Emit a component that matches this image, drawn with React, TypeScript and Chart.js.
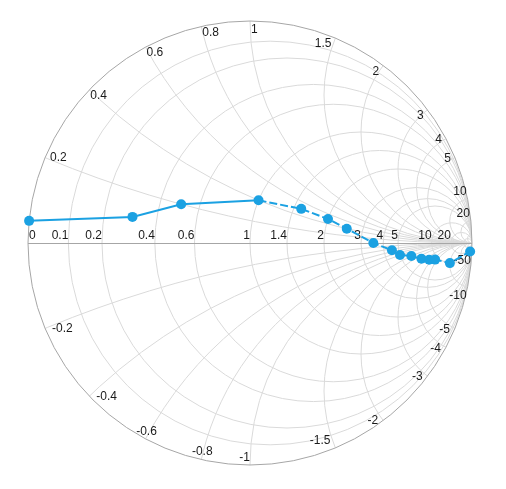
import React, { useEffect, useRef } from "react";
import { Chart, registerables } from "chart.js";

Chart.register(...registerables);

// Data series: impedance points (resistance, reactance)
const resistance = [0, 0.3, 0.5, 1.0, 1.5, 2.0, 2.5, 3.5, 4.5, 5.0, 6.0, 7.0, 8.0, 9.0, 10, 10];
const reactance = [0.05, 0.1, 0.2, 0.4, 0.5, 0.5, 0.4, 0.0, -0.5, -1.0, -1.5, -2.5, -3.5, -4.5, -10, -50];

// Grid values
const resistanceGrid = [0.1, 0.2, 0.4, 0.6, 1, 1.4, 2, 3, 4, 5, 10, 20, 50];
const reactanceGrid = [0.2, 0.4, 0.6, 0.8, 1, 1.5, 2, 3, 4, 5, 10, 20, 50];

// Tick labels
const resistanceLabels = [0, 0.1, 0.2, 0.4, 0.6, 1, 1.4, 2, 3, 4, 5, 10, 20];
const reactanceLabels = [0.2, 0.4, 0.6, 0.8, 1, 1.5, 2, 3, 4, 5, 10, 20, -0.2, -0.4, -0.6, -0.8, -1, -1.5, -2, -3, -4, -5, -10, -50];

const SERIES_COLOR = "#1BA1E2";
const GRID_COLOR = "#dadada";
const RIM_COLOR = "#a6a6a6";
const LABEL_COLOR = "#1a1a1a";
const FONT = "12px 'Liberation Sans', Arial, sans-serif";

function toGamma(r: number, x: number) {
  // Γ = (z - 1) / (z + 1)
  const a = r - 1, b = x, c = r + 1, d = x;
  const den = c * c + d * d;
  return { x: (a * c + b * d) / den, y: (b * c - a * d) / den };
}

const smithGrid = {
  id: "smithGrid",
  beforeDatasetsDraw(chart: any) {
    const { ctx, scales } = chart;
    const xs = scales.x, ys = scales.y;
    const cx = xs.getPixelForValue(0);
    const cy = ys.getPixelForValue(0);
    const R = xs.getPixelForValue(1) - cx;
    const Ry = cy - ys.getPixelForValue(1);

    ctx.save();
    ctx.beginPath();
    ctx.ellipse(cx, cy, R, Ry, 0, 0, Math.PI * 2);
    ctx.clip();
    ctx.strokeStyle = GRID_COLOR;
    ctx.lineWidth = 1;
    // resistance circles
    for (const r of resistanceGrid) {
      const gcx = xs.getPixelForValue(r / (r + 1));
      const rad = R / (r + 1);
      ctx.beginPath();
      ctx.arc(gcx, cy, rad, 0, Math.PI * 2);
      ctx.stroke();
    }
    // reactance arcs
    for (const xv of reactanceGrid) {
      for (const s of [1, -1]) {
        const x = xv * s;
        const px = xs.getPixelForValue(1);
        const py = ys.getPixelForValue(1 / x);
        const rad = R / Math.abs(x);
        ctx.beginPath();
        ctx.arc(px, py, rad, 0, Math.PI * 2);
        ctx.stroke();
      }
    }
    ctx.restore();

    // horizontal axis
    ctx.save();
    ctx.strokeStyle = RIM_COLOR;
    ctx.lineWidth = 1;
    ctx.beginPath();
    ctx.moveTo(xs.getPixelForValue(-1), cy + 0.5);
    ctx.lineTo(xs.getPixelForValue(1), cy + 0.5);
    ctx.stroke();
    // outer rim
    ctx.beginPath();
    ctx.ellipse(cx, cy, R, Ry, 0, 0, Math.PI * 2);
    ctx.stroke();

    ctx.fillStyle = LABEL_COLOR;
    ctx.font = FONT;
    ctx.textBaseline = "middle";
    // resistance labels
    for (const r of resistanceLabels) {
      const px = xs.getPixelForValue((r - 1) / (r + 1));
      const y = cy - 7.5;
      if (r === 0) {
        ctx.textAlign = "left";
        ctx.fillText(String(r), px + 1, y);
      } else {
        ctx.textAlign = "right";
        ctx.fillText(String(r), px, y);
      }
    }
    // reactance labels
    for (const x of reactanceLabels) {
      const g = toGamma(0, x);
      const px = xs.getPixelForValue(g.x);
      const py = ys.getPixelForValue(g.y);
      const a = Math.abs((Math.atan2(g.y, g.x) * 180) / Math.PI);
      const txt = String(x);
      let tx = px, ty = py;
      if (x > 0) {
        if (g.x < -0.01) { ctx.textAlign = "left"; tx = px + (a > 150 ? 5 : 1); }
        else if (Math.abs(g.x) <= 0.01) { ctx.textAlign = "left"; tx = px + 1; }
        else { ctx.textAlign = "right"; tx = px - (a < 15 ? 1 : 4); }
        if (a < 15) ty = py - 7;
        else if (a < 32) ty = py + 1;
        else if (a > 150) ty = py;
        else if (Math.abs(a - 90) < 1) ty = py + 9;
        else ty = py + 6;
      } else {
        if (g.x < -0.6) { ctx.textAlign = "left"; tx = px + 7; }
        else if (g.x < -0.01) { ctx.textAlign = "center"; tx = px + 1; }
        else if (Math.abs(g.x) <= 0.01) { ctx.textAlign = "right"; tx = px; }
        else { ctx.textAlign = "right"; tx = px - (a < 15 ? 1 : 5); }
        if (a < 15) ty = py + 9;
        else if (a < 32) ty = py + 1.6;
        else if (a < 60) ty = py;
        else if (a < 125) ty = py - 7.5;
        else ty = py + 0.5;
      }
      ctx.fillText(txt, tx, ty);
    }
    ctx.restore();
  },
};

export default function App() {
  const ref = useRef<HTMLCanvasElement | null>(null);
  useEffect(() => {
    if (!ref.current) return;
    const points = resistance.map((r, i) => toGamma(r, reactance[i]));
    const chart = new Chart(ref.current, {
      type: "scatter",
      data: {
        datasets: [
          {
            data: points,
            showLine: true,
            clip: false,
            borderColor: SERIES_COLOR,
            backgroundColor: SERIES_COLOR,
            borderWidth: 2,
            pointRadius: 5,
            pointBorderWidth: 0,
            pointBackgroundColor: SERIES_COLOR,
            segment: {
              borderDash: (c: any) => (c.p0DataIndex >= 3 ? [8, 3] : undefined),
            },
          } as any,
        ],
      },
      options: {
        animation: false,
        responsive: false,
        layout: { padding: { left: 28, right: 34, top: 21, bottom: 24 } },
        plugins: { legend: { display: false }, tooltip: { enabled: false } },
        scales: {
          x: { type: "linear", min: -1, max: 1, display: false },
          y: { type: "linear", min: -1, max: 1, display: false },
        },
      },
      plugins: [smithGrid],
    });
    return () => chart.destroy();
  }, []);
  return (
    <div style={{ position: "fixed", left: 0, top: 0, width: 506, height: 489 }}>
      <canvas ref={ref} width={506} height={489} style={{ width: 506, height: 489 }} />
    </div>
  );
}
